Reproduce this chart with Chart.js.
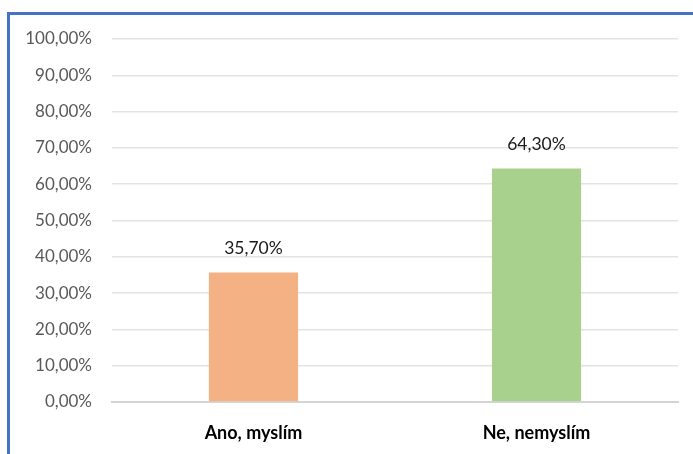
<!DOCTYPE html>
<html>
<head>
<meta charset="utf-8">
<script src="https://cdn.jsdelivr.net/npm/chart.js@4"></script>
<style>
  html, body { margin: 0; padding: 0; background: #fff; }
  #frame {
    position: absolute; left: 7px; top: 12px; width: 686px; height: 442px;
    border-top: 3px solid #4472C4; border-left: 3px solid #4472C4;
  }
  #wrap { position: absolute; left: 0; top: 0; width: 693px; height: 454px; }
</style>
</head>
<body>
<div id="frame"></div>
<div id="wrap"><canvas id="chart"></canvas></div>
<script>
// data
const categories = ['Ano, myslím', 'Ne, nemyslím'];
const shares = [35.7, 64.3];
const barColors = ['#F4B183', '#A9D18E'];

const pct = v => v.toFixed(2).replace('.', ',') + '%';

// draws the value above each bar
const valueLabels = {
    id: 'valueLabels',
    afterDatasetsDraw(chart) {
        const ctx = chart.ctx;
        const meta = chart.getDatasetMeta(0);
        ctx.save();
        ctx.font = '17.5px Lato';
        ctx.fillStyle = '#1a1a1a';
        ctx.textAlign = 'center';
        ctx.textBaseline = 'middle';
        meta.data.forEach((bar, i) => {
            ctx.fillText(pct(shares[i]), bar.x, bar.y - 24);
        });
        ctx.restore();
    }
};

new Chart(document.getElementById('chart'), {
    type: 'bar',
    data: {
        labels: categories,
        datasets: [{
            data: shares,
            backgroundColor: barColors,
            categoryPercentage: 1,
            barPercentage: 0.315,
        }],
    },
    options: {
        responsive: true,
        maintainAspectRatio: false,
        animation: false,
        layout: { padding: { top: 39, right: 15, left: 0, bottom: 0 } },
        plugins: {
            legend: { display: false },
            tooltip: { enabled: false },
        },
        scales: {
            y: {
                min: 0,
                max: 100,
                ticks: {
                    stepSize: 10,
                    padding: 20,
                    color: '#595959',
                    font: { family: 'Lato', size: 17 },
                    callback: v => pct(v),
                },
                grid: { color: '#e3e3e3', lineWidth: 1.5, drawTicks: false },
                border: { display: false },
                afterFit: s => { s.width = 112; },
            },
            x: {
                ticks: {
                    padding: 20,
                    color: '#000',
                    font: { family: 'Lato', size: 18, weight: 'bold' },
                },
                grid: { display: false, drawTicks: false },
                border: { color: '#d4d4d4', width: 2 },
                afterFit: s => { s.height = 52; },
            },
        },
    },
    plugins: [valueLabels],
});
</script>
</body>
</html>
